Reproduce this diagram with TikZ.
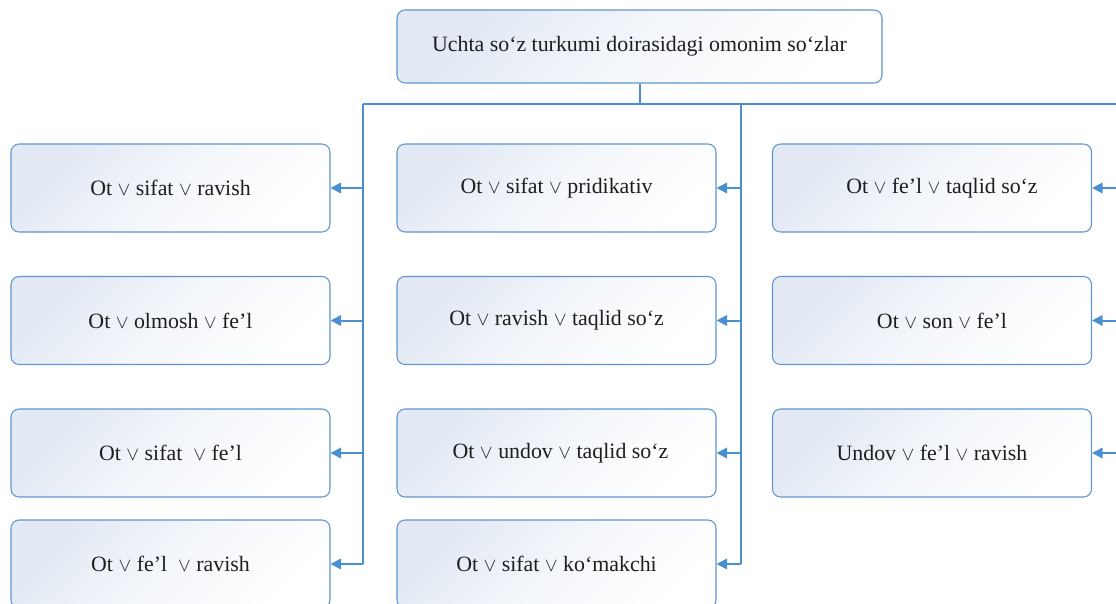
\documentclass[tikz,border=0pt]{standalone}
\usepackage{fontspec}
\setmainfont{Liberation Serif}
\usetikzlibrary{arrows.meta}
\definecolor{lineblue}{RGB}{74,144,208}
\definecolor{boxedge}{RGB}{95,150,205}
\definecolor{boxfill}{RGB}{226,233,244}
\definecolor{txt}{RGB}{30,30,30}
\newcommand\orv{{\fontsize{14pt}{14pt}\selectfont$\vee$}}
\begin{document}
\begin{tikzpicture}[x=0.75pt,y=-0.75pt,
  box/.style={draw=boxedge, line width=0.8pt, rounded corners=6pt,
    top color=boxfill, bottom color=white, middle color=white!60!boxfill, shading angle=45,
    minimum width=239.25pt, minimum height=66pt, inner sep=0pt,
    font=\fontsize{16.4pt}{18pt}\selectfont, text=txt},
  conn/.style={draw=lineblue, line width=1.5pt},
  arr/.style={conn, -{Triangle[length=8pt,width=8pt]}}]
\useasboundingbox (0,0) rectangle (1116,603);
\clip (0,0) rectangle (1116,603);

\node[box, minimum width=363.75pt, minimum height=54.75pt] (top) at (639.5,46.5) {Uchta so‘z turkumi doirasidagi omonim so‘zlar};

\node[box] (L1) at (170.5,188) {Ot \orv{} sifat \orv{} ravish};
\node[box] (L2) at (170.5,320.5) {Ot \orv{} olmosh \orv{} fe’l};
\node[box] (L3) at (170.5,453) {Ot \orv{} sifat \ \orv{} fe’l};
\node[box] (L4) at (170.5,564) {Ot \orv{} fe’l \ \orv{} ravish};

\node[box] (M1) at (556.5,188) {Ot \orv{} sifat \orv{} pridikativ};
\node[box] (M2) at (556.5,320.5) {Ot \orv{} ravish \orv{} taqlid so‘z};
\node[box] (M3) at (556.5,453) {\hspace*{6pt}Ot \orv{} undov \orv{} taqlid so‘z};
\node[box] (M4) at (556.5,564) {Ot \orv{} sifat \orv{} ko‘makchi};

\node[box] (R1) at (932,188) {\hspace*{15pt}Ot \orv{} fe’l \orv{} taqlid so‘z};
\node[box] (R2) at (932,320.5) {\hspace*{15pt}Ot \orv{} son \orv{} fe’l};
\node[box] (R3) at (932,453) {Undov \orv{} fe’l \orv{} ravish};

\coordinate (stem) at (640,104);
\coordinate (jL) at (363,104);
\coordinate (jM) at (741,104);
\coordinate (jR) at (1122,104);

\draw[conn] (top.south -| stem) -- (stem);
\draw[conn] (jL) -- (jR);
\draw[conn] (jL) -- (L4.east -| jL);
\draw[conn] (jM) -- (M4.east -| jM);
\draw[conn] (jR) -- (R3.east -| jR);

\foreach \n in {L1,L2,L3,L4}{\draw[arr] (\n.east -| jL) -- (\n.east);}
\foreach \n in {M1,M2,M3,M4}{\draw[arr] (\n.east -| jM) -- (\n.east);}
\foreach \n in {R1,R2,R3}{\draw[arr] (\n.east -| jR) -- (\n.east);}
\end{tikzpicture}
\end{document}
